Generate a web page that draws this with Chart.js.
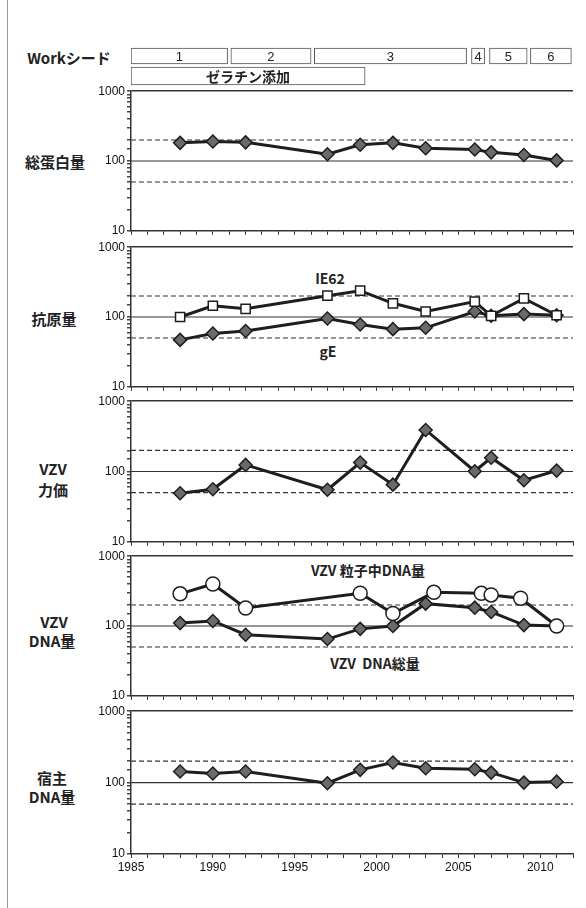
<!DOCTYPE html>
<html>
<head>
<meta charset="utf-8">
<script src="https://cdn.jsdelivr.net/npm/chart.js@4"></script>
<style>
  body { margin: 0; background: #fff; }
  #page { position: relative; width: 586px; height: 908px; overflow: hidden; }
  canvas { position: absolute; }
  .lbl {
    position: absolute; transform: translate(-50%, -50%);
    font-family: "Noto Sans CJK JP", "Liberation Sans", sans-serif;
    font-weight: bold; color: #222; white-space: nowrap; line-height: 1;
  }
</style>
</head>
<body>
<div id="page">
  <div style="position:absolute;left:7px;top:0;width:1px;height:908px;background:#999"></div>

  <div class="lbl" style="left:69px;top:57px;font-size:15px">Workシード</div>

  <div class="lbl" style="left:55px;top:161px;font-size:15px">総蛋白量</div>
  <div class="lbl" style="left:54px;top:318px;font-size:15px">抗原量</div>
  <div class="lbl" style="left:53px;top:468px;font-size:15px">VZV</div>
  <div class="lbl" style="left:53px;top:489px;font-size:15px">力価</div>
  <div class="lbl" style="left:54px;top:621px;font-size:15px">VZV</div>
  <div class="lbl" style="left:52px;top:640px;font-size:15px">DNA量</div>
  <div class="lbl" style="left:52px;top:777px;font-size:15px">宿主</div>
  <div class="lbl" style="left:52px;top:796px;font-size:15px">DNA量</div>

  <div class="lbl" style="left:330px;top:278px;font-size:14px">IE62</div>
  <div class="lbl" style="left:328px;top:351px;font-size:14px">gE</div>
  <div class="lbl" style="left:368px;top:570px;font-size:14px">VZV 粒子中DNA量</div>
  <div class="lbl" style="left:375px;top:663px;font-size:14px">VZV&nbsp;&nbsp;DNA総量</div>

  <canvas id="header" width="526" height="40" style="left:60px;top:46px"></canvas>
  <canvas id="p1" width="526" height="158" style="left:60px;top:82px"></canvas>
  <canvas id="p2" width="526" height="158" style="left:60px;top:238px"></canvas>
  <canvas id="p3" width="526" height="159" style="left:60px;top:392px"></canvas>
  <canvas id="p4" width="526" height="158" style="left:60px;top:547px"></canvas>
  <canvas id="p5" width="526" height="174" style="left:60px;top:702px"></canvas>
</div>

<script>
// work-seed periods and gelatin period (years)
const WORK_LABELS = ["1", "2", "3", "4", "5", "6"];
const WORK_START = [1985, 1991.1, 1996.2, 2005.8, 2006.9, 2009.4];
const WORK_END = [1990.9, 1996.0, 2005.5, 2006.6, 2009.2, 2011.9];
const GELATIN = [1985, 1999.3];
const GELATIN_LABEL = "ゼラチン添加";

// measurement years
const YEARS = [1988, 1990, 1992, 1997, 1999, 2001, 2003, 2006, 2007, 2009, 2011];
const DNA_PARTICLE_YEARS = [1988, 1990, 1992, 1999, 2001, 2003.5, 2006.4, 2007, 2008.8, 2011];

const totalProtein = [182, 190, 185, 125, 171, 182, 152, 146, 133, 122, 102];
const antigenIE62 = [100, 145, 131, 202, 238, 157, 120, 166, 104, 185, 106];
const antigenGE = [47, 58, 63, 95, 78, 67, 70, 120, 104, 110, 106];
const vzvTiter = [49, 56, 124, 55, 134, 65, 390, 101, 157, 75, 103];
const dnaParticle = [289, 400, 181, 295, 151, 304, 294, 279, 250, 100];
const dnaTotal = [110, 118, 75, 65, 91, 100, 209, 183, 159, 103, 100];
const hostDNA = [143, 134, 143, 98, 151, 191, 159, 154, 138, 100, 103];

const REF_LEVELS = [50, 100, 200];
const X_MIN = 1985, X_MAX = 2012;
const Y_MIN = 10, Y_MAX = 1000;

const TICK_FONT = { family: "Liberation Sans", size: 12 };

function pts(xs, ys) {
  return xs.map((x, i) => ({ x: x, y: ys[i] }));
}

function isDecade(v) {
  const l = Math.log10(v);
  return Math.abs(l - Math.round(l)) < 1e-6;
}

const diamond = {
  pointStyle: "rectRot", pointRadius: 6.5, backgroundColor: "#6a6a6a",
  borderColor: "#1e1e1e", borderWidth: 3, pointBorderWidth: 1.5, order: 2
};
const square = {
  pointStyle: "rect", pointRadius: 6.5, backgroundColor: "#fff",
  borderColor: "#1e1e1e", borderWidth: 3, pointBorderWidth: 1.5, order: 1
};
const circle = {
  pointStyle: "circle", pointRadius: 7, backgroundColor: "#fff",
  borderColor: "#1e1e1e", borderWidth: 3, pointBorderWidth: 1.5, order: 1
};

function refLines() {
  return REF_LEVELS.map((v) => ({
    data: [{ x: X_MIN, y: v }, { x: X_MAX, y: v }],
    borderColor: "#333",
    borderWidth: 1.2,
    borderDash: v === 100 ? [] : [5, 3],
    pointRadius: 0,
    order: 10
  }));
}

function makePanel(id, series, showYears) {
  const datasets = refLines().concat(series.map((s) => Object.assign({
    data: pts(s.x, s.y)
  }, s.style)));

  new Chart(document.getElementById(id), {
    type: "line",
    data: { datasets: datasets },
    options: {
      responsive: false,
      animation: false,
      layout: { padding: { top: 8, right: 13, bottom: 0, left: 0 } },
      plugins: { legend: { display: false }, tooltip: { enabled: false } },
      scales: {
        x: {
          type: "linear",
          min: X_MIN,
          max: X_MAX,
          afterFit: (s) => { s.height = showYears ? 22 : 6; },
          ticks: {
            display: showYears,
            stepSize: 1,
            maxTicksLimit: 40,
            autoSkip: false,
            maxRotation: 0,
            padding: 2,
            color: "#111",
            font: TICK_FONT,
            callback: (v) => (v % 5 === 0 ? String(v) : "")
          },
          grid: { drawOnChartArea: false, tickLength: 4, tickColor: "#333" },
          border: { color: "#333", width: 1.5 }
        },
        y: {
          type: "logarithmic",
          min: Y_MIN,
          max: Y_MAX,
          afterFit: (s) => { s.width = 71; },
          ticks: {
            autoSkip: false,
            padding: 2,
            color: "#111",
            font: TICK_FONT,
            callback: (v) => (isDecade(v) ? String(Math.round(v)) : "")
          },
          grid: {
            color: (c) => (c.tick && Math.abs(c.tick.value - Y_MAX) < 1e-6 ? "#333" : "rgba(0,0,0,0)"),
            lineWidth: 1.5,
            tickLength: 4,
            tickColor: "#444"
          },
          border: { color: "#333", width: 1.5 }
        }
      }
    }
  });
}

// text inside the period boxes
const barText = {
  id: "barText",
  afterDatasetsDraw(chart) {
    const c = chart.ctx;
    chart.data.datasets.forEach((ds, di) => {
      chart.getDatasetMeta(di).data.forEach((el, i) => {
        c.save();
        c.font = ds.textFont;
        c.fillStyle = "#222";
        c.textAlign = "center";
        c.textBaseline = "middle";
        c.fillText(ds.texts[i], (el.x + el.base) / 2, el.y + 1);
        c.restore();
      });
    });
  }
};

new Chart(document.getElementById("header"), {
  type: "bar",
  data: {
    labels: ["work", "gel"],
    datasets: [
      {
        data: WORK_START.map((s, i) => ({ y: "work", x: [s, WORK_END[i]] })),
        texts: WORK_LABELS,
        textFont: "13px 'Liberation Sans'",
        backgroundColor: "#fff",
        borderColor: "#555",
        borderWidth: 1,
        borderSkipped: false,
        barThickness: 16,
        grouped: false
      },
      {
        data: [{ y: "gel", x: GELATIN }],
        texts: [GELATIN_LABEL],
        textFont: "bold 14px 'Noto Sans CJK JP'",
        backgroundColor: "#fff",
        borderColor: "#555",
        borderWidth: 1,
        borderSkipped: false,
        barThickness: 18,
        grouped: false
      }
    ]
  },
  options: {
    indexAxis: "y",
    responsive: false,
    animation: false,
    layout: { padding: { top: 0, right: 13, bottom: 0, left: 71 } },
    plugins: { legend: { display: false }, tooltip: { enabled: false } },
    scales: {
      x: { type: "linear", min: X_MIN, max: X_MAX, display: false },
      y: { type: "category", display: false }
    }
  },
  plugins: [barText]
});

makePanel("p1", [{ x: YEARS, y: totalProtein, style: diamond }], false);
makePanel("p2", [
  { x: YEARS, y: antigenGE, style: diamond },
  { x: YEARS, y: antigenIE62, style: square }
], false);
makePanel("p3", [{ x: YEARS, y: vzvTiter, style: diamond }], false);
makePanel("p4", [
  { x: YEARS, y: dnaTotal, style: diamond },
  { x: DNA_PARTICLE_YEARS, y: dnaParticle, style: circle }
], false);
makePanel("p5", [{ x: YEARS, y: hostDNA, style: diamond }], true);
</script>
</body>
</html>
